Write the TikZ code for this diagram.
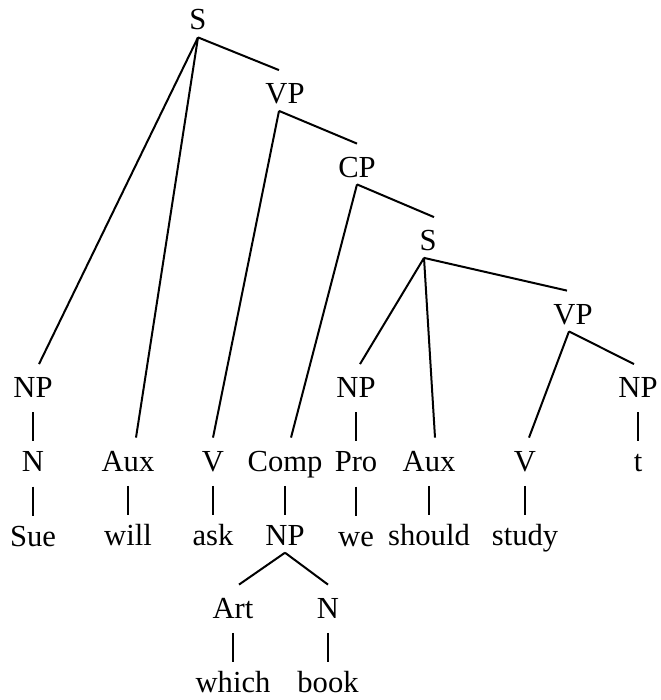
\documentclass[tikz,border=0pt]{standalone}
\usepackage{fontspec}
\setmainfont{Liberation Serif}
\usetikzlibrary{positioning}

\begin{document}
\begin{tikzpicture}[
    x=0.5pt, y=-0.5pt,
    node distance=16.75pt,
    font=\fontsize{15.3}{18}\selectfont,
    cat/.style={inner sep=0pt, text height=16.5pt, text depth=3.5pt, anchor=base},
    branch/.style={line width=1pt},
    bar/.style={line width=0.6pt, shorten <=3.75pt, shorten >=-1.5pt}
]
    \useasboundingbox (0,0) rectangle (660,700);

    % Spine
    \node[cat] (S1) at (198,30) {S};
    \node[cat] (VP1) at (285,103.5) {VP};
    \node[cat] (CP) at (357,177) {CP};
    \node[cat] (S2) at (428,250.5) {S};
    \node[cat] (VP2) at (573,324) {VP};

    % Subject NP
    \node[cat] (NP1) at (33,397.5) {NP};
    \node[cat, below=of NP1] (N1) {N};
    \node[cat, below=of N1] (sue) {Sue};

    % Auxiliaries and verbs
    \node[cat] (Aux1) at (128,471) {Aux};
    \node[cat, below=of Aux1] (will) {will};
    \node[cat] (V1) at (213,471) {V};
    \node[cat, below=of V1] (ask) {ask};

    % Complementizer position
    \node[cat] (Comp) at (285,471) {Comp};
    \node[cat, below=of Comp] (NP3) {NP};
    \node[cat] (Art) at (233,618) {Art};
    \node[cat, below=of Art] (which) {which};
    \node[cat] (N3) at (328,618) {N};
    \node[cat, below=of N3] (book) {book};

    % Embedded clause
    \node[cat] (NP2) at (356,397.5) {NP};
    \node[cat, below=of NP2] (Pro) {Pro};
    \node[cat, below=of Pro] (we) {we};
    \node[cat] (Aux2) at (429,471) {Aux};
    \node[cat, below=of Aux2] (should) {should};
    \node[cat] (V2) at (525,471) {V};
    \node[cat, below=of V2] (study) {study};
    \node[cat] (NP4) at (638,397.5) {NP};
    \node[cat, below=of NP4] (t) {t};

    % Branches
    \draw[branch] (S1.south) -- ([xshift=3pt]NP1.north);
    \draw[branch] (S1.south) -- ([xshift=4pt]Aux1.north);
    \draw[branch] (S1.south) -- ([xshift=-3pt]VP1.north);
    \draw[branch] ([xshift=-3pt]VP1.south) -- (V1.north);
    \draw[branch] ([xshift=-3pt]VP1.south) -- (CP.north);
    \draw[branch] (CP.south) -- ([xshift=3pt]Comp.north);
    \draw[branch] (CP.south) -- ([xshift=3pt]S2.north);
    \draw[branch] ([xshift=-2pt]S2.south) -- ([xshift=2pt]NP2.north);
    \draw[branch] ([xshift=-2pt]S2.south) -- ([xshift=3pt]Aux2.north);
    \draw[branch] ([xshift=-2pt]S2.south) -- ([xshift=-3pt]VP2.north);
    \draw[branch] ([xshift=-2pt]VP2.south) -- ([xshift=2pt]V2.north);
    \draw[branch] ([xshift=-2pt]VP2.south) -- ([xshift=-2pt]NP4.north);
    \draw[branch] (NP3.south) -- ([xshift=3pt]Art.north);
    \draw[branch] (NP3.south) -- (N3.north);

    % Unary bars
    \draw[bar] (NP1.south) -- (N1.north);
    \draw[bar] (N1.south) -- (sue.north);
    \draw[bar] (Aux1.south) -- (will.north);
    \draw[bar] (V1.south) -- (ask.north);
    \draw[bar] (Comp.south) -- (NP3.north);
    \draw[bar] (Art.south) -- (which.north);
    \draw[bar] (N3.south) -- (book.north);
    \draw[bar] (NP2.south) -- (Pro.north);
    \draw[bar] (Pro.south) -- (we.north);
    \draw[bar] (Aux2.south) -- (should.north);
    \draw[bar] (V2.south) -- (study.north);
    \draw[bar] (NP4.south) -- (t.north);
\end{tikzpicture}
\end{document}
